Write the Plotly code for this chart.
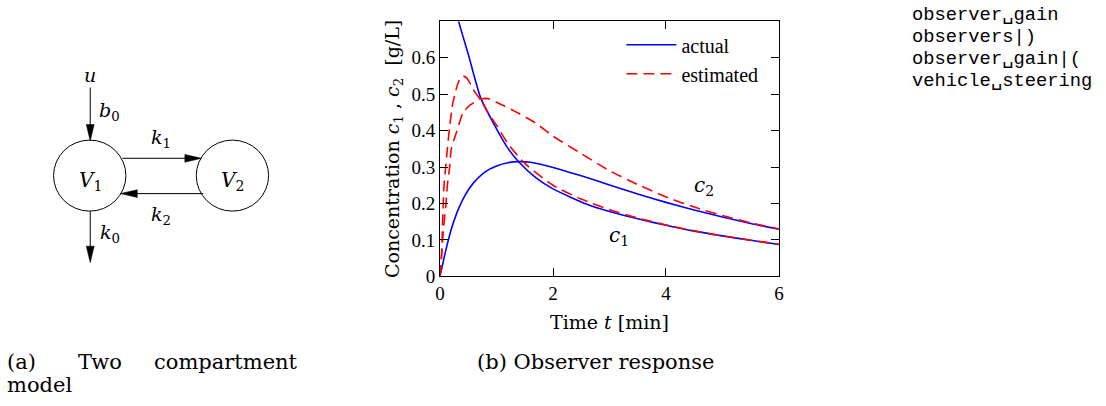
import plotly.graph_objects as go

# ---------------- data ----------------
t_c1 = [0, 0.1, 0.2, 0.33, 0.5, 0.72, 1.0, 1.2, 1.4, 1.7, 2.0, 2.3, 2.6, 3.0, 3.5, 4.0, 4.5, 5.0, 5.5, 6.0]
c1_actual = [1.0, 0.9, 0.8, 0.7, 0.61, 0.49, 0.405, 0.352, 0.313, 0.27, 0.24, 0.218, 0.198, 0.178, 0.158, 0.14, 0.124, 0.111, 0.099, 0.0875]

t_c2 = [0, 0.1, 0.2, 0.3, 0.4, 0.5, 0.6, 0.8, 1.0, 1.2, 1.4, 1.6, 2.0, 2.5, 3.0, 3.5, 4.0, 4.5, 5.0, 5.5, 6.0]
c2_actual = [0, 0.07, 0.13, 0.175, 0.21, 0.237, 0.258, 0.287, 0.303, 0.312, 0.315, 0.313, 0.299, 0.276, 0.251, 0.226, 0.203, 0.182, 0.163, 0.145, 0.129]

t_e1 = [0, 0.03, 0.05, 0.07, 0.1, 0.13, 0.17, 0.22, 0.28, 0.33, 0.4, 0.47, 0.55, 0.62, 0.72, 0.85, 1.0, 1.2, 1.5, 2.0, 2.5, 3.0, 3.5, 4.0, 4.5, 5.0, 5.5, 6.0]
c1_est = [0, 0.07, 0.17, 0.25, 0.3, 0.35, 0.41, 0.47, 0.51, 0.535, 0.55, 0.545, 0.525, 0.505, 0.485, 0.45, 0.415, 0.365, 0.31, 0.25, 0.212, 0.183, 0.16, 0.141, 0.125, 0.111, 0.099, 0.088]

t_e2 = [0, 0.03, 0.06, 0.1, 0.13, 0.17, 0.2, 0.3, 0.41, 0.53, 0.71, 0.85, 1.0, 1.3, 1.7, 2.0, 2.5, 3.0, 3.5, 4.0, 4.5, 5.0, 5.5, 6.0]
c2_est = [0, 0.06, 0.13, 0.19, 0.25, 0.3, 0.35, 0.4, 0.45, 0.47, 0.486, 0.488, 0.478, 0.455, 0.42, 0.385, 0.337, 0.29, 0.252, 0.218, 0.19, 0.167, 0.147, 0.13]

x_ticks = [0, 2, 4, 6]
y_ticks = [0, 0.1, 0.2, 0.3, 0.4, 0.5, 0.6]
y_tick_labels = ["0", "0.1", "0.2", "0.3", "0.4", "0.5", "0.6"]

series_names = ["actual", "estimated"]
code_lines = ["observer\u2423gain", "observers|)", "observer\u2423gain|(", "vehicle\u2423steering"]

# ---------------- figure ----------------
W, H = 1106, 406
TIMES = "Liberation Serif, Times New Roman, serif"
CM = "DejaVu Serif, serif"
MONO = "Liberation Mono, DejaVu Sans Mono, monospace"


def px(x):
    return x / W


def py(y):
    return 1 - y / H


BLUE = "#0000ff"
RED = "#ff0000"
LW = 1.6

fig = go.Figure()
fig.add_trace(go.Scatter(x=t_c1, y=c1_actual, mode="lines", name=series_names[0], legendgroup="a",
                         line=dict(color=BLUE, width=LW, shape="spline", smoothing=0.6)))
fig.add_trace(go.Scatter(x=t_c2, y=c2_actual, mode="lines", name=series_names[0], legendgroup="a", showlegend=False,
                         line=dict(color=BLUE, width=LW, shape="spline", smoothing=0.6)))
fig.add_trace(go.Scatter(x=t_e1, y=c1_est, mode="lines", name=series_names[1], legendgroup="e",
                         line=dict(color=RED, width=LW, dash="11px,6px", shape="spline", smoothing=0.6)))
fig.add_trace(go.Scatter(x=t_e2, y=c2_est, mode="lines", name=series_names[1], legendgroup="e", showlegend=False,
                         line=dict(color=RED, width=LW, dash="11px,6px", shape="spline", smoothing=0.6)))

axis_common = dict(showgrid=False, zeroline=False, showline=True, linecolor="black", linewidth=1,
                   mirror="allticks", ticks="inside", ticklen=8, tickcolor="black", tickwidth=1,
                   tickfont=dict(family=TIMES, size=19, color="black"))

fig.update_layout(
    width=W, height=H, autosize=False,
    margin=dict(l=0, r=0, t=0, b=0),
    paper_bgcolor="white", plot_bgcolor="white",
    font=dict(family=TIMES, size=18, color="black"),
    xaxis=dict(domain=[px(439), px(781)], range=[0, 6], tickvals=x_ticks,
               title=dict(text="Time <i>t</i> [min]", font=dict(family=CM, size=19), standoff=12),
               **axis_common),
    yaxis=dict(domain=[py(284), py(22)], range=[0, 0.7], tickvals=y_ticks, ticktext=y_tick_labels,
               title=dict(text="Concentration <i>c</i><sub>1</sub> , <i>c</i><sub>2</sub>  [g/L]",
                          font=dict(family=CM, size=19), standoff=6),
               **axis_common),
    showlegend=True,
    legend=dict(x=px(622), y=py(26), xanchor="left", yanchor="top", bgcolor="rgba(0,0,0,0)",
                borderwidth=0, font=dict(family=TIMES, size=20), tracegroupgap=0, itemwidth=50),
)

annotations = []
# curve labels
annotations.append(dict(x=4.68, y=0.247, xref="x", yref="y", text="<i>c</i><sub>2</sub>", showarrow=False,
                        font=dict(family=CM, size=20)))
annotations.append(dict(x=3.16, y=0.112, xref="x", yref="y", text="<i>c</i><sub>1</sub>", showarrow=False,
                        font=dict(family=CM, size=20)))

# ---- compartment diagram (left) ----
shapes = []
R = 36.5
for cx in (85.5, 229.5):
    shapes.append(dict(type="circle", xref="paper", yref="paper",
                       x0=px(cx - R), x1=px(cx + R), y0=py(180.5 + R), y1=py(180.5 - R),
                       line=dict(color="black", width=1)))


def arrow(x_tail, y_tail, x_head, y_head, length=17.0, half=4.0):
    dx, dy = x_head - x_tail, y_head - y_tail
    n = (dx * dx + dy * dy) ** 0.5
    ux, uy = dx / n, dy / n
    bx, by = x_head - ux * length, y_head - uy * length
    shapes.append(dict(type="line", xref="paper", yref="paper",
                       x0=px(x_tail), y0=py(y_tail), x1=px(bx + ux * 2), y1=py(by + uy * 2),
                       line=dict(color="black", width=1)))
    p1 = (bx - uy * half, by + ux * half)
    p2 = (bx + uy * half, by - ux * half)
    path = "M {:.5f},{:.5f} L {:.5f},{:.5f} L {:.5f},{:.5f} Z".format(
        px(x_head), py(y_head), px(p1[0]), py(p1[1]), px(p2[0]), py(p2[1]))
    shapes.append(dict(type="path", xref="paper", yref="paper", path=path,
                       fillcolor="black", line=dict(color="black", width=0.5)))


arrow(86, 90, 86, 145)        # u -> V1
arrow(118.5, 162.7, 198.5, 162.7)   # k1
arrow(200, 199, 116.5, 199)   # k2
arrow(86, 217, 86, 270)       # k0


def label(x, y, text, size=19, family=CM, xanchor="center"):
    annotations.append(dict(x=px(x), y=py(y), xref="paper", yref="paper", text=text, showarrow=False,
                            xanchor=xanchor, yanchor="middle", font=dict(family=family, size=size, color="black")))


label(86, 77, "<i>u</i>")
label(105, 115, "<i>b</i><sub>0</sub>")
label(157, 142, "<i>k</i><sub>1</sub>")
label(157, 222, "<i>k</i><sub>2</sub>")
label(106, 240, "<i>k</i><sub>0</sub>")
label(86, 186, "<i>V</i><sub>1</sub>", size=20)
label(230, 186, "<i>V</i><sub>2</sub>", size=20)

# captions
label(0, 372, "(a)", size=21, xanchor="left")
label(72, 372, "Two", size=21, xanchor="left")
label(148, 372, "compartment", size=21, xanchor="left")
label(0, 396, "model", size=21, xanchor="left")
label(474, 372, "(b) Observer response", size=21, xanchor="left")

# code text on right
for i, line in enumerate(code_lines):
    label(913, 15 + 22.8 * i, line, size=18.8, family=MONO, xanchor="left")

fig.update_layout(shapes=shapes, annotations=annotations)

fig.write_html("out.html", config={"displayModeBar": False},
               post_script="document.body.style.margin='0';document.body.style.overflow='hidden';")
